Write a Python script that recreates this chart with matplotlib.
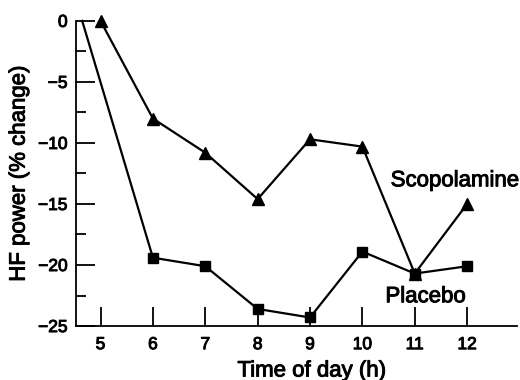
import matplotlib
matplotlib.use("Agg")
import matplotlib.pyplot as plt
import matplotlib.patheffects as pe
from matplotlib.ticker import MultipleLocator

plt.rcParams['font.family'] = ['Liberation Sans', 'DejaVu Sans']

hours = [5, 6, 7, 8, 9, 10, 11, 12]
scopolamine = [0, -8.0, -10.8, -14.6, -9.7, -10.3, -20.7, -15.0]
placebo_x = [4.65, 6, 7, 8, 9, 10, 11, 12]
placebo = [0, -19.4, -20.1, -23.6, -24.3, -18.9, -20.7, -20.1]
xticks = [5, 6, 7, 8, 9, 10, 11, 12]
yticks = [0, -5, -10, -15, -20, -25]
ytick_labels = ['0', '\u22125', '\u221210', '\u221215', '\u221220', '\u221225']

heavy = [pe.withStroke(linewidth=0.7, foreground='black')]

fig = plt.figure(figsize=(5.2, 3.8), dpi=100)
ax = fig.add_axes([0.146, 0.142, 0.848, 0.803])

ax.plot(placebo_x, placebo, color='black', lw=1.6, marker='s', ms=7,
        markevery=list(range(1, len(placebo))), clip_on=False, zorder=3)
ax.plot(hours, scopolamine, color='black', lw=1.6, marker='^', ms=9,
        clip_on=False, zorder=3)

ax.set_xlim(4.53, 12.95)
ax.set_ylim(-25, 0)
ax.set_xticks(xticks)
ax.set_yticks(yticks)
ax.set_yticklabels(ytick_labels)
ax.yaxis.set_minor_locator(MultipleLocator(2.5))
ax.tick_params(axis='both', which='major', direction='in', length=14, width=1.3,
               labelsize=12.5)
ax.tick_params(axis='x', pad=8)
ax.tick_params(axis='y', pad=6)
ax.tick_params(axis='y', which='minor', direction='in', length=7, width=1.3)
for s in ['top', 'right']:
    ax.spines[s].set_visible(False)
for s in ['left', 'bottom']:
    ax.spines[s].set_linewidth(1.3)

ax.set_xlabel('Time of day (h)', fontsize=16, labelpad=6, x=0.535,
              path_effects=heavy)
ax.set_ylabel('HF power (% change)', fontsize=16, labelpad=6,
              path_effects=heavy)
for lab in ax.get_xticklabels() + ax.get_yticklabels():
    lab.set_path_effects(heavy)

ax.text(10.54, -13.1, 'Scopolamine', fontsize=16, ha='left', va='center',
        path_effects=heavy)
ax.text(10.44, -22.6, 'Placebo', fontsize=16, ha='left', va='center',
        path_effects=heavy)

fig.savefig('out.png', dpi=100)
